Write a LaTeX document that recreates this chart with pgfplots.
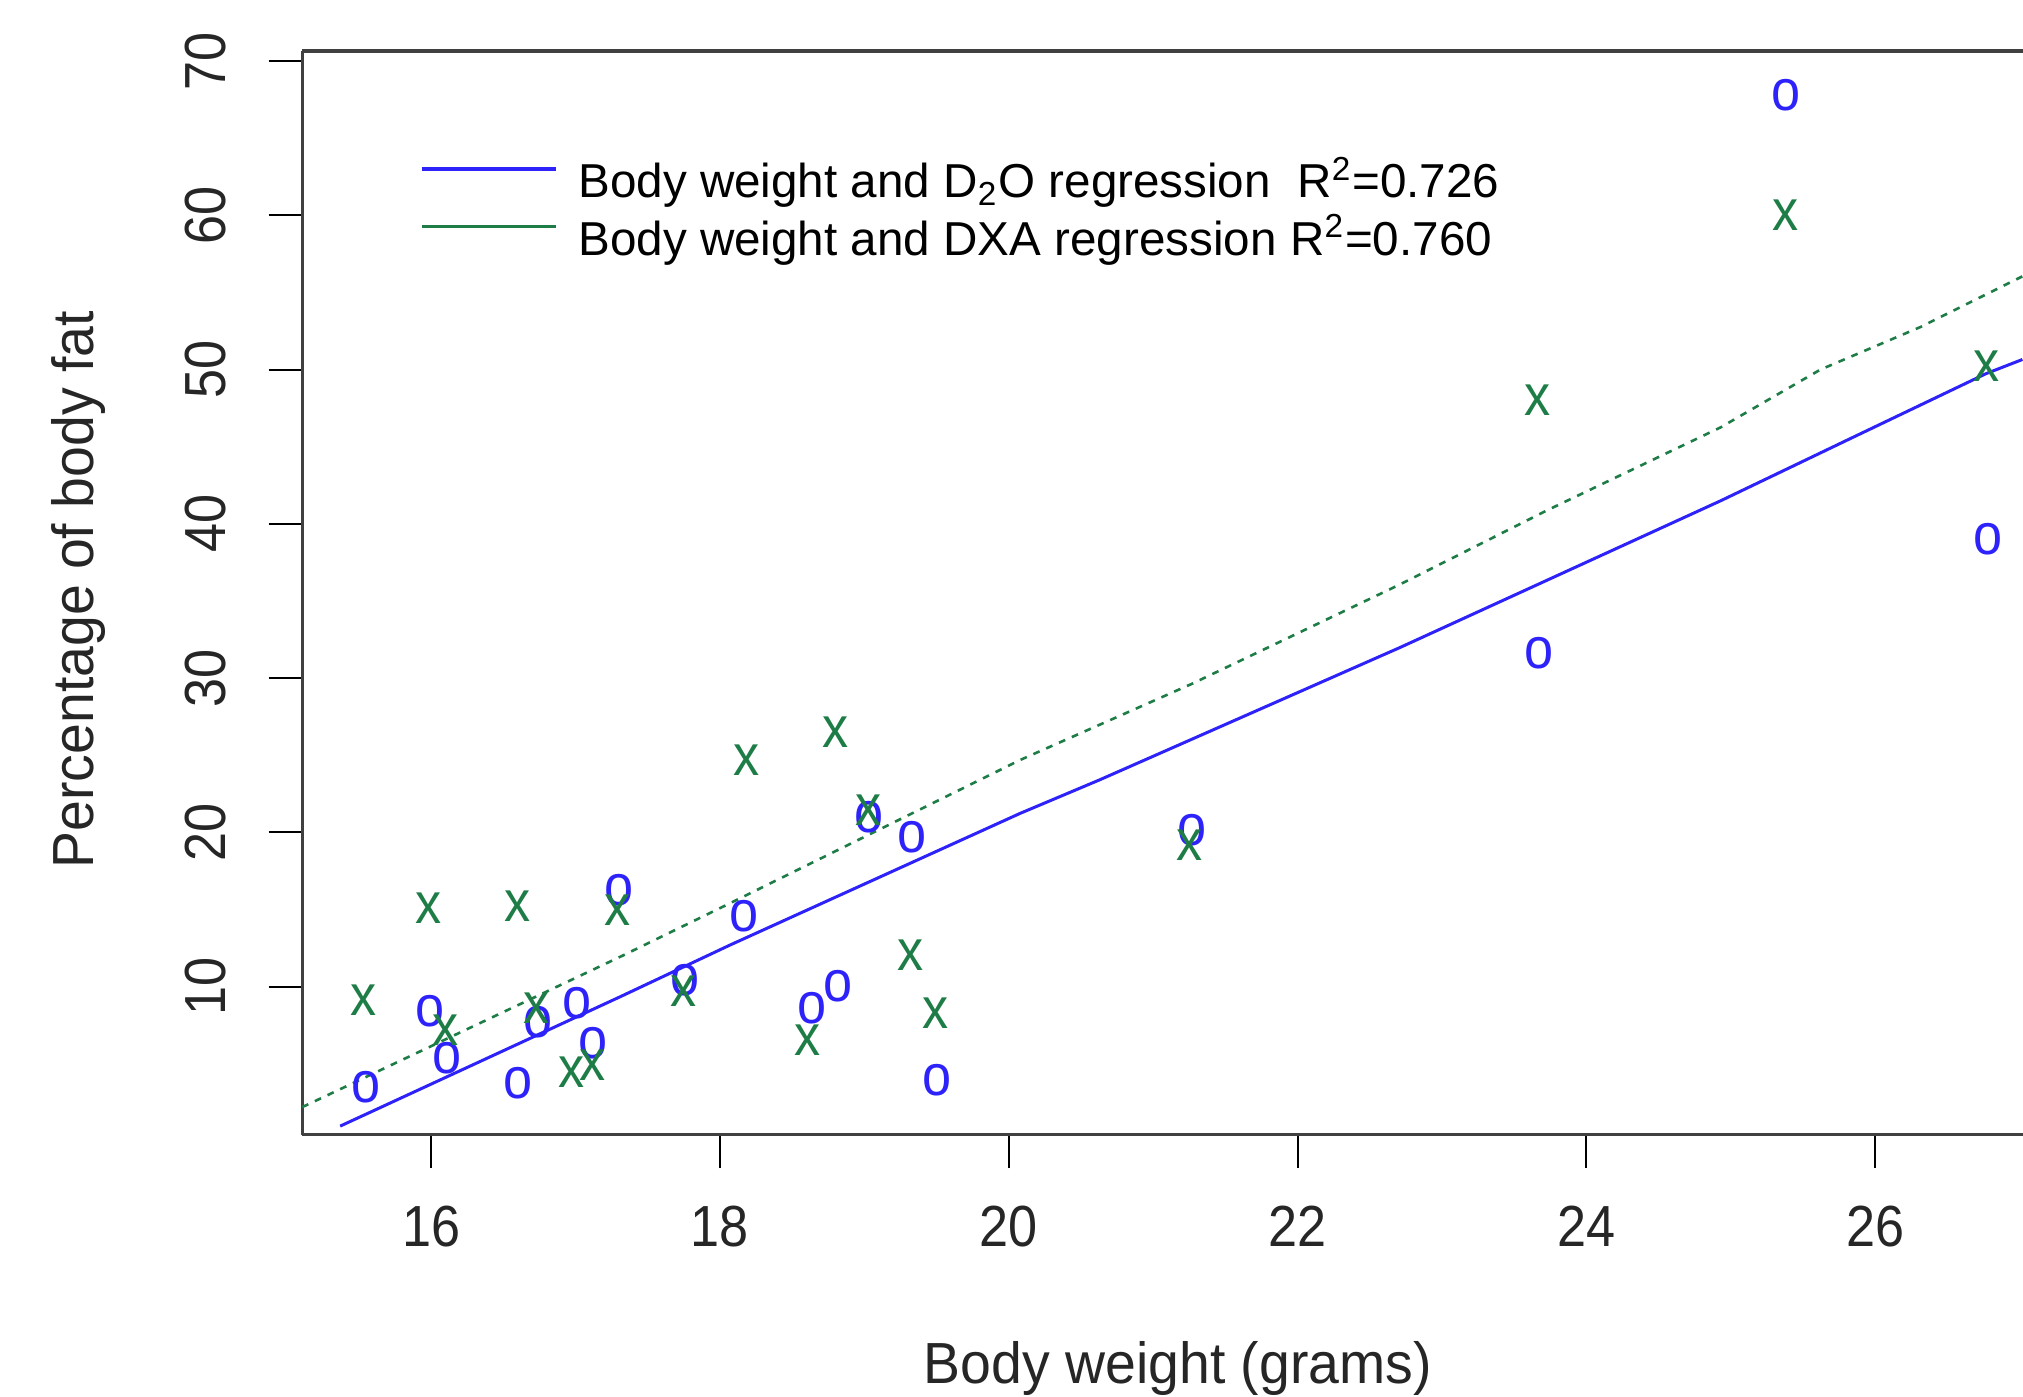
\documentclass[border=0pt]{standalone}
\usepackage{fontspec}
\setmainfont{Liberation Sans}
\newfontfamily\rfont[FakeStretch=0.9]{Liberation Sans}
\newfontfamily\lfont[FakeStretch=0.955]{Liberation Sans}
\usepackage{pgfplots}
\pgfplotsset{compat=1.18}
\definecolor{rblue}{RGB}{45,35,250}
\definecolor{rgreen}{RGB}{30,125,70}
\newcommand{\axfont}{\rfont\fontsize{14.5}{17}\selectfont}

\begin{document}
\begin{tikzpicture}
\begin{axis}[
    name=ax,
    scale only axis,
    width=430.2pt, height=270.9pt,
    xmin=15.107, xmax=27.024,
    ymin=0.4, ymax=70.65,
    clip=false,
    axis lines=left,
    axis line style={-, line width=0.8pt, draw=black!75},
    xtick={16,18,...,26},
    ytick={10,20,...,70},
    tick align=outside,
    major tick length=8.4pt,
    tick style={line width=0.5pt, draw=black},
    /pgf/number format/assume math mode=true,
    tick label style={font=\axfont, text=black!85, inner sep=0pt},
    xticklabel style={anchor=north},
    yticklabel style={rotate=90, anchor=base},
    xticklabel shift=9.35pt,
    yticklabel shift=10.75pt,
    xlabel={Body weight (grams)},
    ylabel={Percentage of body fat},
    label style={font=\lfont\fontsize{14.5}{17}\selectfont, text=black!85, inner sep=0pt},
    xlabel style={at={(axis description cs:0.5088,0)}, anchor=base, yshift=-62.2pt},
    ylabel style={at={(axis description cs:-0.1214,0.5028)}, anchor=base},
    legend style={at={(axis description cs:0.068,0.910)}, anchor=north west,
        draw=none, fill=none, inner sep=0pt, row sep=-1.4pt,
        font=\fontsize{11.9}{14}\selectfont},
    legend cell align=left,
    legend image code/.code={
        \path (0pt,-4pt) (37pt,4pt);
        \draw[#1, line width=0.8pt] (0pt,2.9pt) -- (33.5pt,2.9pt);},
]
% fitted lines
\addplot[rblue, line width=0.75pt, forget plot] coordinates {
    (15.37,0.95) (17.31,9.34) (18.07,12.69) (20.08,21.23) (20.63,23.4)
    (22.71,31.98) (24.93,41.49) (25.85,45.62) (26.77,49.74) (27.02,50.65)};
\addplot[rgreen, line width=0.65pt, dash pattern=on 1.7pt off 1.8pt, forget plot] coordinates {
    (15.107,2.18) (17.31,11.93) (18.07,15.40) (20.08,24.69) (21.27,29.63)
    (22.71,36.07) (23.73,40.88) (24.93,46.25) (25.62,49.99) (26.31,52.74) (27.02,56.04)};
% D2O
\addplot[only marks, mark=text, text mark={o}, text mark as node=true,
    text mark style={font=\axfont, text=rblue, inner sep=0pt}, forget plot] coordinates {
    (15.55,3.50) (15.99,8.37) (16.11,5.34) (16.60,3.72) (16.74,7.72)
    (17.01,8.91) (17.12,6.32) (17.30,16.26) (17.76,10.4) (18.17,14.53)
    (18.64,8.59) (18.82,9.99) (19.03,21.0) (19.33,19.71) (19.50,3.94)
    (21.27,20.15) (23.67,31.61) (25.38,67.8) (26.78,39.0)};
% DXA
\addplot[only marks, mark=text, text mark={x}, text mark as node=true,
    text mark style={font=\axfont, text=rgreen, inner sep=0pt}, forget plot] coordinates {
    (15.53,9.12) (15.98,15.07) (16.10,7.18) (16.60,15.18) (16.73,8.59)
    (16.97,4.47) (17.12,4.91) (17.29,14.96) (17.75,9.7) (18.185,24.69)
    (18.61,6.53) (18.80,26.52) (19.03,21.4) (19.32,12.04) (19.49,8.26)
    (21.25,19.18) (23.66,48.04) (25.38,60.0) (26.77,50.24)};
\addlegendimage{rblue}
\addlegendentry{Body weight and D\textsubscript{2}O regression~~R\textsuperscript{2}=0.726}
\addlegendimage{rgreen}
\addlegendentry{Body weight and DXA regression R\textsuperscript{2}=0.760}
\draw[line width=0.8pt, black!75] (rel axis cs:0,1) -- (rel axis cs:1,1);
\end{axis}
\pgfresetboundingbox
\useasboundingbox ([shift={(-75.55pt,-65.375pt)}]ax.south west) rectangle ([shift={(0pt,12.75pt)}]ax.north east);
\end{tikzpicture}
\end{document}
